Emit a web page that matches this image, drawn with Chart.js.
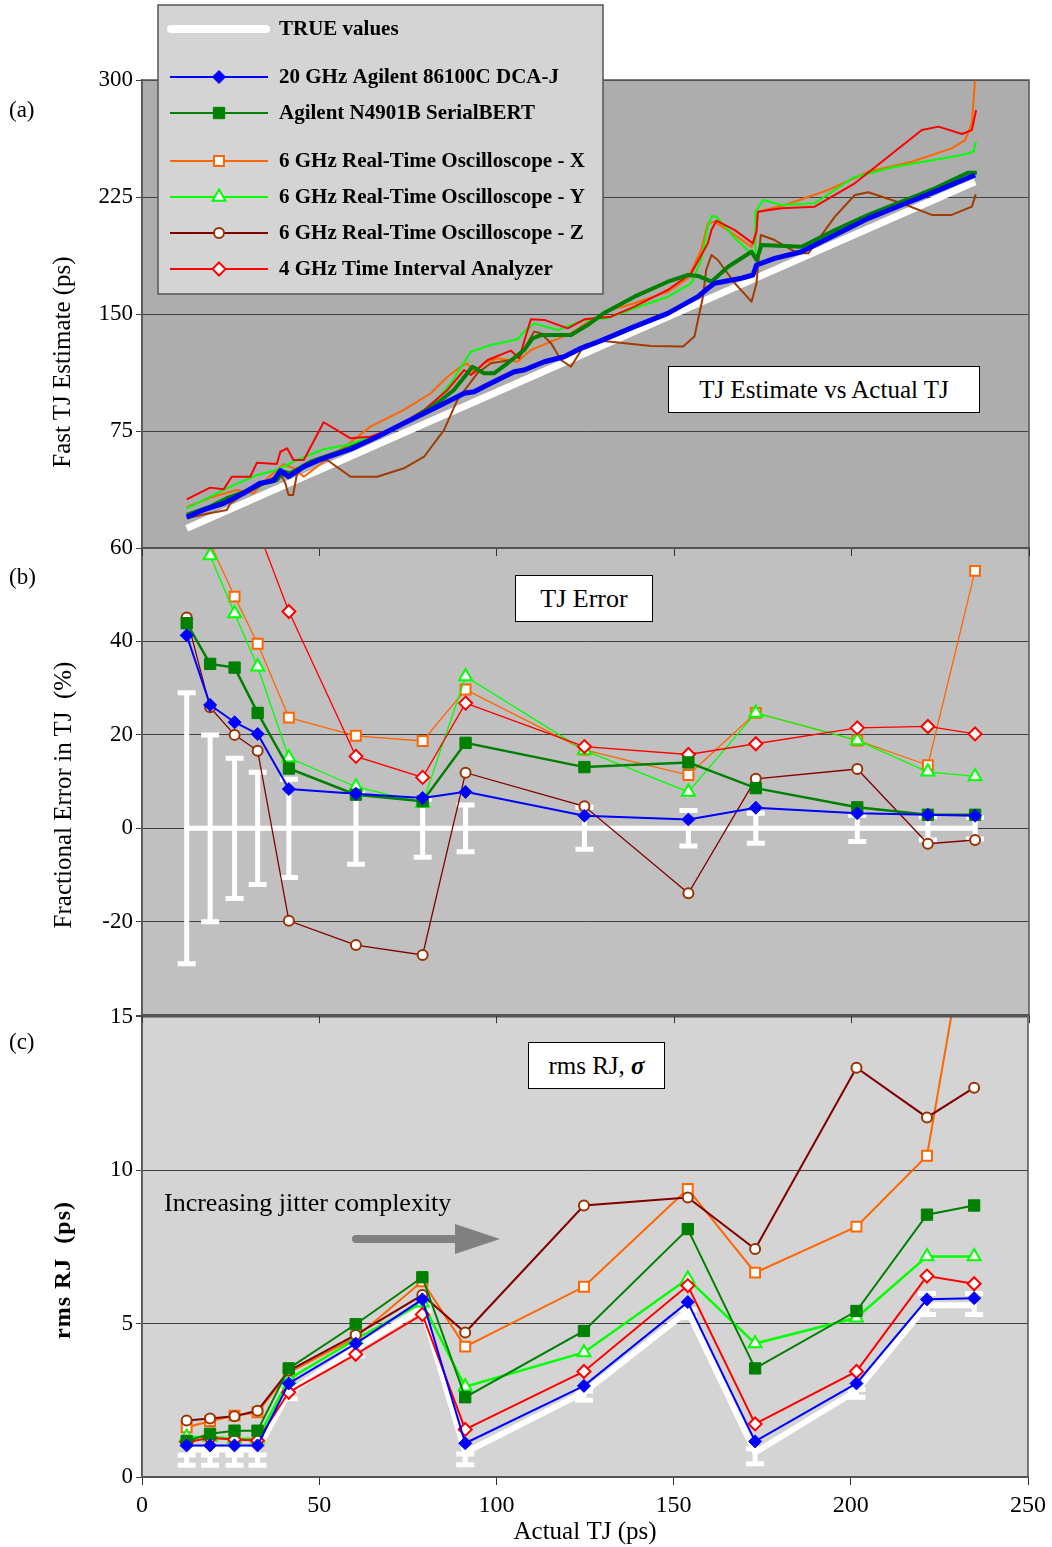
<!DOCTYPE html>
<html>
<head>
<meta charset="utf-8">
<script src="https://cdn.jsdelivr.net/npm/chart.js@4.4.1/dist/chart.umd.min.js"></script>
<style>
    body { margin: 0; background: #fff; }
    #wrap { position: relative; width: 1052px; height: 1547px; font-family: "Liberation Serif", "Times New Roman", serif; color: #000; }
    canvas { position: absolute; left: 0; }
    .txt { position: absolute; white-space: nowrap; line-height: 1; z-index: 5; }
    .box { position: absolute; background: #fff; border: 1px solid #000; box-sizing: border-box; display: flex; align-items: center; justify-content: center; white-space: nowrap; z-index: 5; }
    .ytitle { position: absolute; transform: translate(-50%, -50%) rotate(-90deg); white-space: nowrap; font-size: 25px; line-height: 1; z-index: 5; }
</style>
</head>
<body>
<div id="wrap">
    <canvas id="painelA" width="1052" height="570" style="top:0;z-index:3"></canvas>
    <canvas id="painelB" width="1052" height="502" style="top:530px;z-index:2"></canvas>
    <canvas id="painelC" width="1052" height="547" style="top:1000px;z-index:1"></canvas>

    <div class="txt" style="left:9px;top:98px;font-size:23px">(a)</div>
    <div class="txt" style="left:9px;top:565px;font-size:23px">(b)</div>
    <div class="txt" style="left:9px;top:1030px;font-size:23px">(c)</div>

    <div class="ytitle" style="left:61px;top:362px">Fast TJ Estimate (ps)</div>
    <div class="ytitle" style="left:62px;top:795px">Fractional Error in TJ&nbsp;&nbsp;(%)</div>
    <div class="ytitle" style="left:62px;top:1270px;font-weight:bold;font-size:24px;letter-spacing:1px">rms RJ&nbsp;&nbsp;(ps)</div>

    <div class="box" style="left:668px;top:366px;width:312px;height:47px;font-size:25px">TJ Estimate vs Actual TJ</div>
    <div class="box" style="left:515px;top:575px;width:138px;height:47px;font-size:26px">TJ Error</div>
    <div class="box" style="left:528px;top:1042px;width:137px;height:47px;font-size:25px">rms RJ,&nbsp;<b><i>&sigma;</i></b></div>

    <div class="txt" style="left:164px;top:1190px;font-size:26px">Increasing jitter complexity</div>
    <svg style="position:absolute;left:350px;top:1220px;z-index:5" width="155" height="40">
        <line x1="6" y1="19" x2="106" y2="19" stroke="#808080" stroke-width="8" stroke-linecap="round"/>
        <polygon points="105,4 150,19 105,34" fill="#808080"/>
    </svg>
</div>

<script>
// Actual TJ (ps) of the test signals, shared by panels (b) and (c)
var actualTJ = [12.6, 19.2, 26.1, 32.6, 41.4, 60.3, 79.1, 91.2, 124.7, 154.0, 173.0, 201.6, 221.5, 234.8];

// ---- panel (a): fast TJ estimate (ps) vs actual TJ, [actual, estimate]
var trueTJ = [12.6, 19.2, 26.1, 32.6, 41.4, 60.3, 79.1, 91.2, 124.7, 154.0, 173.0, 201.6, 221.5, 234.8];

var estDca = [[12.6, 19.7], [17.3, 24.4], [23.0, 28.6], [28.6, 35.1], [33.3, 41.5], [37.1, 43.2], [39.0, 49.6],
    [41.3, 45.7], [45.6, 52.1], [50.3, 56.8], [58.8, 63.3], [66.3, 71.3], [73.8, 79.9], [81.4, 88.5], [86.1, 93.8],
    [90.8, 99.2], [93.6, 100.2], [98.3, 105.6], [104.9, 113.0], [107.7, 114.1], [113.4, 119.4], [119.0, 122.6],
    [123.7, 128.0], [129.4, 132.9], [138.8, 141.9], [148.2, 150.4], [156.7, 161.1], [159.5, 166.5], [161.4, 169.7],
    [168.9, 172.9], [172.2, 175.0], [173.2, 181.4], [178.3, 185.7], [185.9, 189.9], [195.3, 200.6], [204.7, 211.3],
    [214.1, 219.9], [223.5, 228.4], [234.8, 239.1]];

var estBert = [[12.6, 21.2], [19.2, 26.5], [23.9, 31.9], [30.5, 37.2], [34.3, 41.5], [38.0, 43.6], [39.9, 48.9],
    [41.8, 47.9], [47.5, 55.3], [56.9, 62.8], [66.3, 71.3], [75.7, 82.1], [83.2, 92.8], [87.9, 101.3], [91.7, 112.0],
    [93.1, 116.2], [96.4, 112.0], [99.2, 112.0], [103.0, 118.4], [107.7, 126.9], [110.1, 134.4], [112.4, 136.5],
    [120.9, 136.5], [125.6, 142.9], [130.5, 151.0], [138.8, 161.1], [148.2, 170.7], [153.9, 175.0], [156.7, 174.4],
    [160.5, 170.7], [165.2, 180.3], [171.8, 189.9], [173.2, 184.6], [174.6, 194.2], [185.9, 193.1], [195.3, 203.8],
    [204.7, 213.5], [214.1, 222.0], [223.5, 230.6], [232.9, 240.6], [235.3, 240.6]];

var estX = [[12.6, 26.1], [20.1, 32.9], [26.7, 37.2], [31.4, 35.1], [34.3, 42.5], [39.9, 53.8], [42.7, 51.1],
    [45.6, 45.7], [51.2, 55.3], [57.8, 66.0], [64.4, 77.8], [73.8, 88.5], [81.4, 99.2], [86.1, 109.8], [89.8, 116.2],
    [91.7, 118.4], [93.6, 112.0], [96.4, 118.4], [100.2, 121.6], [105.8, 119.4], [109.6, 126.9], [120.9, 137.6],
    [126.6, 146.2], [132.2, 152.6], [138.8, 156.9], [148.2, 164.3], [153.9, 172.9], [157.6, 191.0], [159.5, 208.1],
    [161.4, 209.2], [167.1, 200.6], [171.8, 193.1], [172.9, 201.7], [173.6, 215.6], [181.2, 219.9], [193.4, 229.5],
    [204.7, 241.2], [216.9, 247.6], [228.2, 256.2], [232.0, 261.5], [233.9, 272.2], [234.8, 300.0]];

var estY = [[12.6, 25.4], [24.9, 39.3], [32.4, 46.8], [38.0, 50.0], [43.7, 56.4], [51.2, 63.3], [57.8, 66.0],
    [66.3, 72.4], [73.8, 79.9], [81.4, 90.6], [87.0, 105.6], [92.7, 125.8], [98.3, 130.1], [105.8, 133.8],
    [107.7, 138.7], [110.5, 144.0], [117.1, 139.7], [124.7, 146.2], [131.0, 147.2], [138.8, 153.7], [148.2, 161.1],
    [154.8, 169.7], [157.6, 184.6], [159.5, 206.0], [160.5, 212.8], [161.9, 212.4], [167.1, 198.5], [172.8, 186.7],
    [172.9, 215.6], [175.1, 223.1], [180.2, 219.9], [189.6, 221.0], [200.5, 237.5], [212.2, 244.4], [231.1, 251.9],
    [234.4, 254.0], [235.0, 260.4]];

var estZ = [[12.6, 19.0], [18.3, 22.0], [23.9, 24.4], [24.9, 28.6], [30.5, 37.2], [34.3, 41.5], [39.0, 47.9],
    [40.4, 41.5], [41.3, 34.0], [42.6, 34.0], [43.7, 47.9], [47.5, 55.3], [52.2, 56.4], [58.8, 45.7], [66.3, 45.7],
    [73.8, 51.1], [79.5, 58.5], [85.1, 75.6], [88.9, 94.9], [91.7, 103.4], [94.5, 112.0], [98.3, 118.4],
    [104.0, 120.5], [106.8, 123.7], [110.5, 138.7], [112.4, 137.6], [115.3, 131.2], [118.1, 120.5], [120.9, 116.2],
    [124.7, 130.1], [129.4, 132.9], [143.5, 129.5], [152.5, 129.1], [155.7, 135.5], [158.1, 161.1], [159.0, 178.2],
    [160.5, 187.8], [162.3, 184.6], [167.1, 169.7], [171.8, 157.9], [173.2, 169.7], [174.4, 200.6], [178.3, 197.4],
    [184.9, 188.9], [187.8, 188.9], [195.3, 212.4], [200.9, 226.3], [204.7, 228.0], [214.1, 221.0], [222.6, 213.5],
    [228.2, 213.5], [233.9, 218.8], [235.0, 226.7]];

var estTia = [[12.6, 31.2], [19.2, 38.7], [23.0, 37.6], [25.3, 45.7], [30.5, 45.7], [32.4, 54.7], [38.0, 53.8],
    [39.0, 61.7], [40.9, 63.9], [42.7, 56.4], [45.6, 56.4], [51.2, 80.6], [58.8, 70.3], [64.4, 71.3], [71.9, 77.8],
    [79.5, 88.5], [86.1, 101.3], [90.8, 114.1], [92.7, 110.9], [97.4, 120.5], [104.0, 126.5], [106.3, 121.6],
    [109.6, 146.6], [113.4, 146.2], [120.0, 140.8], [124.7, 146.6], [132.2, 148.3], [138.8, 154.7], [148.2, 165.4],
    [154.8, 176.1], [159.5, 195.3], [160.5, 203.8], [161.9, 209.8], [167.1, 203.8], [172.2, 195.3], [173.2, 202.8],
    [173.6, 215.6], [180.2, 217.8], [189.6, 218.8], [200.9, 233.8], [210.3, 250.8], [219.8, 267.9], [224.5, 270.1],
    [231.1, 265.4], [233.9, 267.9], [235.1, 280.8]];

// ---- panel (b): fractional error in TJ (%)
var errTrue = [0, 0, 0, 0, 0, 0, 0, 0, 0, 0, 0, 0, 0, 0];
var errBar = [29, 20, 15, 12, 10.5, 7.7, 6.2, 5, 4.5, 3.8, 3.2, 2.8, 2.5, 2.3];
var errDca = [41.3, 26.4, 22.7, 20.2, 8.4, 7.4, 6.5, 7.8, 2.7, 1.9, 4.4, 3.2, 2.9, 2.7];
var errBert = [43.9, 35.2, 34.4, 24.7, 12.8, 7.2, 5.8, 18.3, 13.1, 14.1, 8.6, 4.5, 2.9, 2.9];
var errX = [90, 61, 49.6, 39.5, 23.7, 19.8, 18.7, 29.7, 16.8, 11.4, 24.7, 18.8, 13.5, 55.1];
var errY = [100, 58.4, 46.0, 34.6, 15.1, 8.9, 5.4, 32.5, 16.7, 7.8, 24.7, 18.8, 12.1, 11.1];
var errZ = [45.1, 25.9, 20.0, 16.6, -19.8, -25.0, -27.1, 11.9, 4.7, -13.9, 10.6, 12.7, -3.3, -2.5];
var errTia = [150, 100, 80, 64, 46.4, 15.4, 10.9, 26.8, 17.5, 15.8, 18.1, 21.5, 21.8, 20.2];

// ---- panel (c): rms RJ (ps)
var rjTrue = [0.9, 0.9, 0.9, 0.9, 2.75, 4.2, 5.5, 0.8, 2.76, 5.41, 0.8, 2.81, 5.6, 5.6];
var rjLow = [0.38, 0.38, 0.38, 0.38, 2.55, 3.95, 5.4, 0.4, 2.5, 5.2, 0.43, 2.6, 5.3, 5.3];
var rjHigh = [0.72, 0.72, 0.72, 0.72, 2.8, 4.2, 5.6, 0.75, 2.8, 5.45, 0.92, 2.85, 5.98, 5.98];
var rjDca = [1.03, 1.03, 1.03, 1.03, 3.05, 4.35, 5.79, 1.10, 2.97, 5.70, 1.16, 3.05, 5.79, 5.83];
var rjBert = [1.17, 1.41, 1.51, 1.51, 3.54, 4.98, 6.51, 2.6, 4.76, 8.08, 3.54, 5.41, 8.55, 8.85];
var rjX = [1.62, 1.82, 2.0, 2.11, 3.4, 4.55, 6.38, 4.25, 6.2, 9.39, 6.66, 8.16, 10.47, 19.3];
var rjY = [1.3, 1.3, 1.25, 1.25, 3.19, 4.49, 5.68, 2.94, 4.06, 6.46, 4.35, 5.19, 7.19, 7.19];
var rjZ = [1.84, 1.91, 1.98, 2.16, 3.46, 4.63, 5.93, 4.71, 8.85, 9.11, 7.43, 13.34, 11.72, 12.69];
var rjTia = [1.14, 1.27, 1.22, 1.19, 2.76, 4.0, 5.30, 1.55, 3.44, 6.24, 1.73, 3.44, 6.55, 6.30];

var seriesNames = ["TRUE values", "20 GHz Agilent 86100C DCA-J", "Agilent N4901B SerialBERT",
    "6 GHz Real-Time Oscilloscope - X", "6 GHz Real-Time Oscilloscope - Y",
    "6 GHz Real-Time Oscilloscope - Z", "4 GHz Time Interval Analyzer"];

var estilos = [
    { line: '#ffffff', width: 8, marker: false, order: 10 },
    { line: '#0000ff', width: 2, marker: 'rectRot', radius: 6.5, fill: '#0000ff', edge: '#0000ff', edgeWidth: 1, order: 1 },
    { line: '#008000', width: 2.5, marker: 'rect', radius: 8, fill: '#008000', edge: '#008000', edgeWidth: 1, order: 2 },
    { line: '#ff6600', width: 1.3, marker: 'rect', radius: 7, fill: '#ffffff', edge: '#ff6600', edgeWidth: 2, order: 6 },
    { line: '#00ff00', width: 1.3, marker: 'triangle', radius: 7.5, fill: '#ffffff', edge: '#00ff00', edgeWidth: 2, order: 5 },
    { line: '#800000', width: 1.3, marker: 'circle', radius: 5, fill: '#ffffff', edge: '#993300', edgeWidth: 2, order: 4 },
    { line: '#ff0000', width: 1.3, marker: 'rectRot', radius: 6.5, fill: '#ffffff', edge: '#ff0000', edgeWidth: 2, order: 3 }
];
var legendRows = [29, 77, 113, 161, 197, 233, 269];

Chart.defaults.font.family = '"Liberation Serif", "Times New Roman", serif';
Chart.defaults.color = '#000';
Chart.defaults.animation = false;
Chart.defaults.plugins.tooltip.enabled = false;
Chart.defaults.plugins.legend.display = false;

// fills the plot area and draws its frame
var moldura = {
    id: 'moldura',
    beforeDraw: function (chart, args, opts) {
        var a = chart.chartArea, ctx = chart.ctx;
        ctx.save();
        ctx.fillStyle = opts.color;
        ctx.fillRect(a.left, a.top, a.right - a.left, a.bottom - a.top);
        ctx.restore();
    },
    afterDraw: function (chart) {
        var a = chart.chartArea, ctx = chart.ctx;
        ctx.save();
        ctx.strokeStyle = '#555';
        ctx.lineWidth = 1.5;
        ctx.strokeRect(a.left, a.top, a.right - a.left, a.bottom - a.top);
        ctx.restore();
    }
};

function desenhaMarcador(ctx, est, x, y) {
    ctx.fillStyle = est.fill;
    ctx.strokeStyle = est.edge;
    ctx.lineWidth = est.edgeWidth;
    Chart.helpers.drawPoint(ctx, { pointStyle: est.marker, radius: est.radius, rotation: 0, borderWidth: est.edgeWidth }, x, y);
}

// legend box over the top of panel (a)
var legenda = {
    id: 'legenda',
    afterDraw: function (chart) {
        var ctx = chart.ctx;
        ctx.save();
        ctx.fillStyle = '#d4d4d4';
        ctx.fillRect(158, 5, 445, 289);
        ctx.strokeStyle = '#555';
        ctx.lineWidth = 1.5;
        ctx.strokeRect(158, 5, 445, 289);
        for (var i = 0; i < seriesNames.length; i++) {
            var est = estilos[i];
            var y = legendRows[i];
            ctx.beginPath();
            ctx.lineCap = i == 0 ? 'round' : 'butt';
            ctx.strokeStyle = est.line;
            ctx.lineWidth = i == 0 ? 8 : 2;
            ctx.moveTo(i == 0 ? 171 : 170, y);
            ctx.lineTo(i == 0 ? 266 : 268, y);
            ctx.stroke();
            if (est.marker) desenhaMarcador(ctx, est, 219, y);
            ctx.fillStyle = '#000';
            ctx.font = 'bold 21px "Liberation Serif", "Times New Roman", serif';
            ctx.textBaseline = 'middle';
            ctx.fillText(seriesNames[i], 279, y + 1);
        }
        ctx.restore();
    }
};

function pares(lista) {
    return lista.map(function (p) { return { x: p[0], y: p[1] }; });
}

function serie(valores) {
    return actualTJ.map(function (x, i) { return { x: x, y: valores[i] }; });
}

function linhaA(pontos, cor, largura, ordem) {
    return { data: pontos, borderColor: cor, borderWidth: largura, pointRadius: 0, order: ordem, borderJoinStyle: 'round' };
}

function linhaMarcada(valores, est, largura) {
    return {
        data: serie(valores),
        borderColor: est.line,
        borderWidth: largura || est.width,
        pointStyle: est.marker,
        pointRadius: est.radius,
        pointBackgroundColor: est.fill,
        pointBorderColor: est.edge,
        pointBorderWidth: est.edgeWidth,
        order: est.order
    };
}

// white error bars: stems broken by null points, caps drawn as 'line' points
function hastes(lo, hi) {
    var pts = [];
    for (var i = 0; i < actualTJ.length; i++) {
        pts.push({ x: actualTJ[i], y: lo[i] }, { x: actualTJ[i], y: hi[i] }, { x: actualTJ[i], y: null });
    }
    return { data: pts, borderColor: '#ffffff', borderWidth: 5, pointRadius: 0, spanGaps: false, order: 11 };
}

function tampas(lo, hi) {
    var pts = [];
    for (var i = 0; i < actualTJ.length; i++) {
        pts.push({ x: actualTJ[i], y: lo[i] }, { x: actualTJ[i], y: hi[i] });
    }
    return { data: pts, showLine: false, pointStyle: 'line', pointRadius: 9, pointBorderWidth: 5,
        pointBorderColor: '#ffffff', borderColor: '#ffffff', order: 12 };
}

function eixoX(altura, comRotulos) {
    return {
        type: 'linear', min: 0, max: 250,
        ticks: { display: comRotulos, stepSize: 50, font: { size: 24 }, padding: 6 },
        grid: { drawOnChartArea: false, tickLength: 8, color: '#333' },
        border: { display: true, color: '#555', width: 1.5 },
        title: comRotulos ? { display: true, text: 'Actual TJ (ps)', font: { size: 25 }, padding: { top: 0, bottom: 0 } } : { display: false },
        afterFit: function (eixo) { eixo.height = altura; }
    };
}

function eixoY(min, max, passo, esconder) {
    return {
        min: min, max: max,
        ticks: {
            stepSize: passo, font: { size: 23 }, padding: 3,
            callback: function (v) { return v == esconder ? '' : v; }
        },
        grid: { color: '#404040', lineWidth: 1, tickLength: 6 },
        border: { display: true, color: '#555', width: 1.5 },
        afterFit: function (eixo) { eixo.width = 142; }
    };
}

new Chart(document.getElementById('painelA'), {
    type: 'line',
    data: {
        datasets: [
            linhaA(serie(trueTJ), '#ffffff', 7, 10),
            linhaA(pares(estDca), '#0000ff', 5, 1),
            linhaA(pares(estBert), '#008000', 4, 2),
            linhaA(pares(estTia), '#ff0000', 2, 3),
            linhaA(pares(estZ), '#a03c00', 2, 4),
            linhaA(pares(estY), '#00ff00', 2, 5),
            linhaA(pares(estX), '#ff6600', 2, 6)
        ]
    },
    options: {
        responsive: false,
        layout: { padding: { top: 80, right: 23, left: 0, bottom: 0 } },
        scales: { x: eixoX(22, false), y: eixoY(0, 300, 75, 0) },
        plugins: { moldura: { color: '#adadad' } }
    },
    plugins: [moldura, legenda]
});

new Chart(document.getElementById('painelB'), {
    type: 'line',
    data: {
        datasets: [
            hastes(errBar.map(function (e) { return -e; }), errBar),
            tampas(errBar.map(function (e) { return -e; }), errBar),
            { data: serie(errTrue), borderColor: '#ffffff', borderWidth: 5, borderCapStyle: 'round', pointRadius: 0, order: 10 },
            linhaMarcada(errDca, estilos[1]),
            linhaMarcada(errBert, estilos[2]),
            linhaMarcada(errX, estilos[3]),
            linhaMarcada(errY, estilos[4]),
            linhaMarcada(errZ, estilos[5]),
            linhaMarcada(errTia, estilos[6])
        ]
    },
    options: {
        responsive: false,
        layout: { padding: { top: 18, right: 23, left: 0, bottom: 0 } },
        scales: { x: eixoX(16, false), y: eixoY(-40, 60, 20, -40) },
        plugins: { moldura: { color: '#c0c0c0' } }
    },
    plugins: [moldura]
});

new Chart(document.getElementById('painelC'), {
    type: 'line',
    data: {
        datasets: [
            hastes(rjLow, rjHigh),
            tampas(rjLow, rjHigh),
            { data: serie(rjTrue), borderColor: '#ffffff', borderWidth: 6, borderJoinStyle: 'round', pointRadius: 0, order: 10 },
            linhaMarcada(rjDca, estilos[1], 2),
            linhaMarcada(rjBert, estilos[2], 2),
            linhaMarcada(rjX, estilos[3], 2),
            linhaMarcada(rjY, estilos[4], 2.5),
            linhaMarcada(rjZ, estilos[5], 2),
            linhaMarcada(rjTia, estilos[6], 2)
        ]
    },
    options: {
        responsive: false,
        layout: { padding: { top: 16, right: 23, left: 0, bottom: 0 } },
        scales: { x: eixoX(70, true), y: eixoY(0, 15, 5, null) },
        plugins: { moldura: { color: '#d4d4d4' } }
    },
    plugins: [moldura]
});
</script>
</body>
</html>
